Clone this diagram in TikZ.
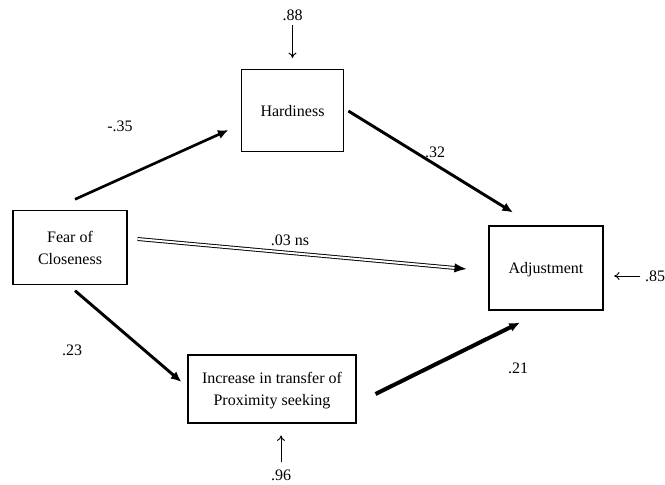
\documentclass[tikz,border=0pt]{standalone}
\usepackage{fontspec}
\setmainfont{Liberation Serif}
\usetikzlibrary{arrows.meta}

\begin{document}
\begin{tikzpicture}[
            x = .75pt, y = -.75pt,
            every node/.style={font=\fontsize{12}{16.5}\selectfont, text depth=0pt},
            box/.style={draw, line width = .8pt, align=center, inner sep=0pt},
            link/.style={line width = 2.2pt, -{Latex[length=8pt, width=7pt]}},
            resid/.style={line width = .7pt, -{To[length=4pt, width=6pt]}},
            ]
        \useasboundingbox (0, 0) rectangle (665, 485);

        \node[box, minimum width=77pt, minimum height=62pt] (hard) at (292.5, 110.5) {Hardiness};
        \node[box, minimum width=85.5pt, minimum height=55pt] (fear) at (70, 247.5) {Fear of\\Closeness};
        \node[box, minimum width=85.5pt, minimum height=63pt] (adj) at (546, 268) {Adjustment};
        \node[box, minimum width=126pt, minimum height=51pt] (incr) at (272, 389) {Increase in transfer of\\Proximity seeking};

        % residuals
        \node (r88) at (292.5, 15) {.88};
        \node (r85) at (655, 276) {.85};
        \node (r96) at (281, 475) {.96};
        \draw[resid, shorten >=8pt] (r88) -- (r88 |- hard.north);
        \draw[resid, shorten >=8pt] (r85) -- (r85 -| adj.east);
        \draw[resid, shorten >=9pt, shorten <=2pt] (r96) -- (r96 |- incr.south);

        % paths
        \draw[link, line width = 2pt] ([shift={(5,-11)}]fear.north) -- ([shift={(-12,19.5)}]hard.west);
        \draw[link] ([shift={(4,0.5)}]hard.east) -- ([shift={(-33,-13)}]adj.north);
        \draw[line width = .7pt, double, double distance = 1.5pt, -{Latex[length=9pt, width=7pt]}]
            ([shift={(10,-8.5)}]fear.east) -- ([shift={(-22,1)}]adj.west);
        \draw[link] ([shift={(5,6)}]fear.south) -- ([shift={(-6,-7)}]incr.west);
        \draw[link, line width = 3pt] ([shift={(19,5)}]incr.east) -- ([shift={(-26,12)}]adj.south);

        \node (l35) at (120, 126) {-.35};
        \node (l32) at (435, 152) {.32};
        \node (l03) at (290, 240) {.03 ns};
        \node (l23) at (72, 350) {.23};
        \node (l21) at (518, 368) {.21};
    \end{tikzpicture}
\end{document}
